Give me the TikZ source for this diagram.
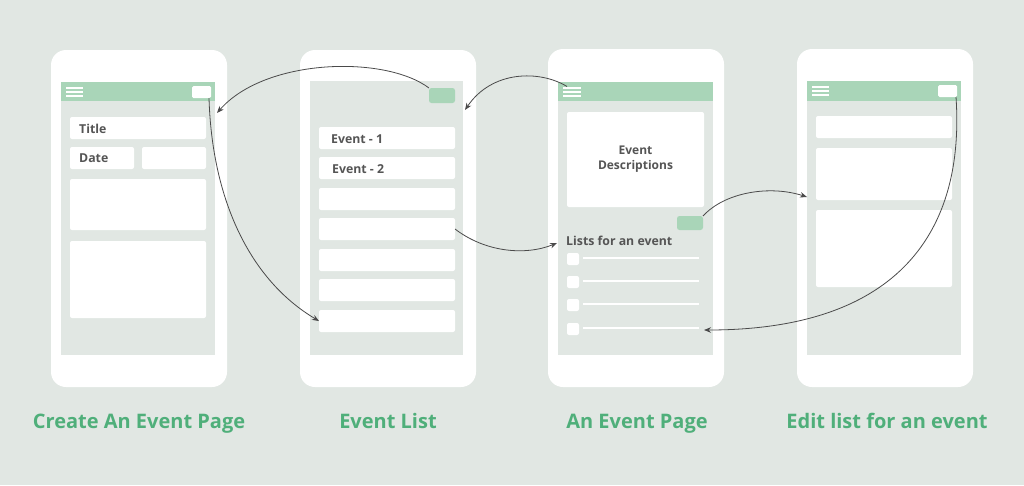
\documentclass[tikz,border=0pt]{standalone}
\usepackage{fontspec}
\setmainfont{Open Sans}
\usetikzlibrary{arrows.meta}

\definecolor{bg}{HTML}{E1E7E3}
\definecolor{hdr}{HTML}{A9D5B8}
\definecolor{ink}{HTML}{555555}
\definecolor{capgreen}{HTML}{4FAF7A}
\definecolor{wire}{HTML}{4A4A4A}

% \blk{name}{style}{x1}{y1}{x2}{y2}: a rectangle node spanning two corners
\newcommand\blk[6]{%
  \node[#2, minimum width={#5-#3}, minimum height={#6-#4}] (#1)
    at ({(#3+#5)/2},{(#4+#6)/2}) {};}

\tikzset{
  base/.style={inner sep=0pt, outer sep=0pt, draw=none},
  phone/.style={base, fill=white, rounded corners=15pt},
  screen/.style={base, fill=bg},
  header/.style={base, fill=hdr},
  field/.style={base, fill=white, rounded corners=2pt},
  gbtn/.style={base, fill=hdr, rounded corners=2.5pt},
  wbtn/.style={base, fill=white, rounded corners=1.5pt},
  bar/.style={base, fill=white},
  check/.style={base, fill=white, rounded corners=2pt},
  rule/.style={base, fill=white},
  lbl/.style={text=ink, font=\fontsize{12.3}{14}\selectfont\bfseries, inner sep=0pt, anchor=base west},
  caption/.style={text=capgreen, font=\fontsize{20}{24}\selectfont\bfseries, inner sep=0pt, anchor=base},
  link/.style={draw=wire, line width=0.8pt, -{Stealth[length=7pt,width=5.5pt]}},
}

\begin{document}
\begin{tikzpicture}[x=1pt, y=-1pt]
  \fill[bg] (0,0) rectangle (1024,485);
  \useasboundingbox (0,0) rectangle (1024,485);

  % ---------- Create An Event Page ----------
  \blk{ph1}{phone}{51}{50}{227}{387}
  \blk{sc1}{screen}{61}{82}{215}{355}
  \blk{hd1}{header}{61}{82}{215}{101}
  \blk{m1a}{bar}{66}{86.5}{83}{88.5}
  \blk{m1b}{bar}{66}{90.5}{83}{92.5}
  \blk{m1c}{bar}{66}{94.5}{83}{96.5}
  \blk{btn1}{wbtn}{192}{86}{211}{98}
  \blk{title}{field}{70}{117}{206}{139}
  \blk{date}{field}{70}{147}{134}{169}
  \blk{datev}{field}{142}{147}{206}{169}
  \blk{noteA}{field}{70}{179}{206}{230}
  \blk{noteB}{field}{70}{241}{206}{318}
  \node[lbl] (tTitle) at (79,133.5) {Title};
  \node[lbl] (tDate) at (79,162.5) {Date};

  % ---------- Event List ----------
  \blk{ph2}{phone}{300}{50}{476}{387}
  \blk{sc2}{screen}{310}{81}{463}{355}
  \blk{add2}{gbtn}{429}{88}{455}{103}
  \blk{ev1}{field}{319}{127}{455}{149}
  \blk{ev2}{field}{319}{157}{455}{179}
  \blk{ev3}{field}{319}{188}{455}{210}
  \blk{ev4}{field}{319}{218}{455}{240}
  \blk{ev5}{field}{319}{249}{455}{271}
  \blk{ev6}{field}{319}{279}{455}{301}
  \blk{ev7}{field}{319}{310}{455}{332}
  \node[lbl] (tEv1) at (331,143.3) {Event - 1};
  \node[lbl] (tEv2) at (332,173) {Event - 2};

  % ---------- An Event Page ----------
  \blk{ph3}{phone}{548}{49}{724}{387}
  \blk{sc3}{screen}{558}{82}{713}{355}
  \blk{hd3}{header}{558}{82}{713}{101}
  \blk{m3a}{bar}{563}{86.5}{581}{88.5}
  \blk{m3b}{bar}{563}{90.5}{581}{92.5}
  \blk{m3c}{bar}{563}{94.5}{581}{96.5}
  \blk{desc}{field}{567}{112}{704}{207}
  \node[text=ink, font=\fontsize{12}{14.7}\selectfont\bfseries, align=center, inner sep=0pt, anchor=base]
    (tDesc) at (635.5,169) {Event\\Descriptions};
  \blk{add3}{gbtn}{677}{216}{703}{230}
  \node[lbl] (lists) at (566,245) {Lists for an event};
  \blk{ck1}{check}{567}{253}{579}{265}
  \blk{ck2}{check}{567}{276}{579}{288}
  \blk{ck3}{check}{567}{299}{579}{311}
  \blk{ck4}{check}{567}{323}{579}{335}
  \blk{ln1}{rule}{583}{257}{699}{259}
  \blk{ln2}{rule}{583}{280}{699}{282}
  \blk{ln3}{rule}{583}{303}{699}{305}
  \blk{ln4}{rule}{583}{327}{699}{329}

  % ---------- Edit list for an event ----------
  \blk{ph4}{phone}{797}{49}{973}{387}
  \blk{sc4}{screen}{807}{81}{961}{355}
  \blk{hd4}{header}{807}{81}{961}{101}
  \blk{m4a}{bar}{812}{86}{829}{88}
  \blk{m4b}{bar}{812}{90}{829}{92}
  \blk{m4c}{bar}{812}{94}{829}{96}
  \blk{btn4}{wbtn}{938}{85}{957}{97}
  \blk{ed1}{field}{816}{116}{952}{138}
  \blk{ed2}{field}{816}{148}{952}{200}
  \blk{ed3}{field}{816}{210}{952}{287}

  % ---------- captions ----------
  \node[caption] (c1) at (139,428) {Create An Event Page};
  \node[caption] (c2) at (388,428) {Event List};
  \node[caption] (c3) at (637,428) {An Event Page};
  \node[caption] (c4) at (887,428) {Edit list for an event};

  % ---------- navigation links ----------
  \coordinate (in1) at (217,113);
  \coordinate (in2) at (465,110);
  \coordinate (in4) at (557,243);
  \coordinate (in5) at (807,197);
  \coordinate (in6) at (704,330);

  \draw[link] (add2.north west) .. controls (385,55) and (265,58) .. (in1);
  \draw[link] ([xshift=4pt]m3a.north west) .. controls (540,70) and (492,70) .. (in2);
  \draw[link] ([xshift=-2pt]btn1.south east) .. controls (212,200) and (250,280) .. (ev7.west);
  \draw[link] (ev4.east) .. controls (485,252) and (525,256) .. (in4);
  \draw[link] (add3.north east) .. controls (725,192) and (770,185) .. (in5);
  \draw[link] ([xshift=-1pt]btn4.south east) .. controls (965,230) and (900,330) .. (in6);
\end{tikzpicture}
\end{document}
